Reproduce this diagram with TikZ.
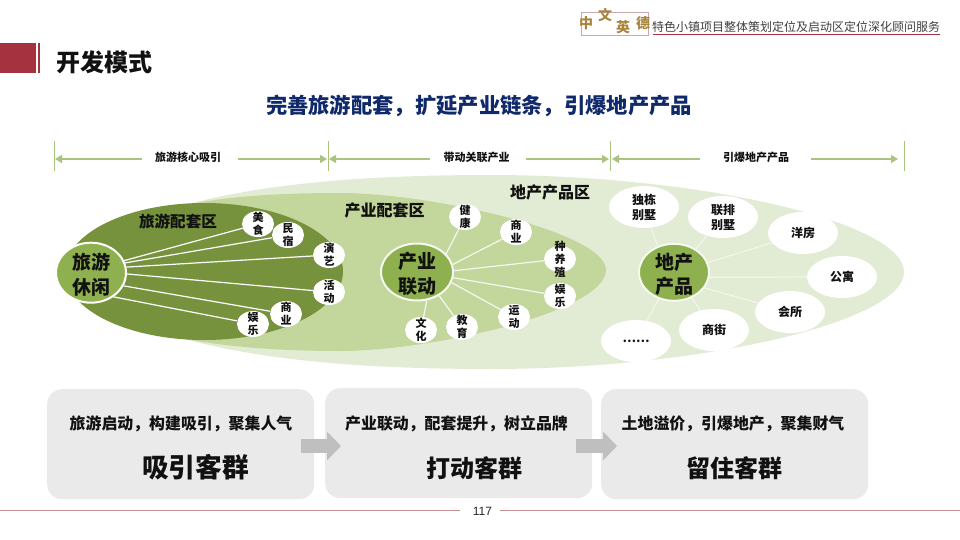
\documentclass[tikz,border=0pt]{standalone}
\usepackage{fontspec}
\setmainfont{Noto Sans CJK SC}
\newfontfamily\latinfont{Liberation Sans}
\usetikzlibrary{shapes.geometric,arrows.meta}
\definecolor{cOuter}{HTML}{E2EBD3}
\definecolor{cMid}{HTML}{C3D69B}
\definecolor{cDark}{HTML}{76923C}
\definecolor{cHub}{HTML}{8FB04F}
\definecolor{cNavy}{HTML}{10296B}
\definecolor{cRed}{HTML}{A5323F}
\definecolor{cRule}{HTML}{A9C47F}
\definecolor{cFoot}{HTML}{C98F95}
\definecolor{cBox}{HTML}{EAEAEA}
\definecolor{cInk}{HTML}{111111}
\definecolor{cGold}{HTML}{A8843C}
\newcommand\fs[1]{\fontsize{#1}{#1}\selectfont}
\tikzset{
  txt/.style={inner sep=0,text=cInk,font=\bfseries,align=center},
  lab/.style={txt,font=\fontsize{11}{13}\selectfont\bfseries},
  labb/.style={txt,font=\fontsize{12}{15}\selectfont\bfseries},
  hubtxt/.style={txt,yshift=-2pt,font=\fontsize{19}{24.7}\selectfont\bfseries},
  sat/.style={ellipse,fill=white,minimum width=32pt,minimum height=26pt,inner sep=0},
  satb/.style={ellipse,fill=white,minimum width=70pt,minimum height=42pt,inner sep=0},
  hub/.style={ellipse,fill=cHub,line width=2pt,inner sep=0},
  spoke/.style={line width=1.2pt},
  rulearrow/.style={draw=cRule,line width=1.2pt,-{Triangle[length=7pt,width=8pt]}},
  ruletick/.style={draw=cRule,line width=0.9pt},
  panel/.style={fill=cBox,rounded corners=15pt,inner sep=0,anchor=north west},
  flow/.style={draw=black!25,line width=14pt,-{Triangle[length=14pt,width=28pt]}},
  logoch/.style={inner sep=0,text=cGold,font=\fs{14}\bfseries},
}
\begin{document}
\begin{tikzpicture}[x=1pt,y=-1pt]
\useasboundingbox (0,0) rectangle (960,540);
\fill[white] (0,0) rectangle (960,540);

% header
\fill[cRed] (0,43) rectangle (36,73.5);
\fill[cRed] (37.5,43) rectangle (40,73.5);
\node[txt,font=\fs{24}\bfseries] (title) at (104,62) {开发模式};
\draw[draw=black!25!cRed!40,line width=0.6pt] (581,12) rectangle (648.5,35);
\node[logoch] (lg1) at (586,23) {中};
\node[logoch] (lg2) at (605,15) {文};
\node[logoch] (lg3) at (623,27) {英};
\node[logoch] (lg4) at (643,23) {德};
\node[inner sep=0,text=black!75,font=\fs{12}] (sub) at (796,27) {特色小镇项目整体策划定位及启动区定位深化顾问服务};
\draw[cRed,line width=0.9pt] (652.5,34.5) -- (940,34.5);
\node[txt,text=cNavy,font=\fs{21.3}\bfseries] (head) at (479,106) {完善旅游配套，扩延产业链条，引爆地产产品};

% ruler
\coordinate (t0a) at (54.5,141); \coordinate (t0b) at (54.5,171);
\coordinate (t1a) at (328,141); \coordinate (t1b) at (328,171);
\coordinate (t2a) at (610,141); \coordinate (t2b) at (610,171);
\coordinate (t3a) at (904,141); \coordinate (t3b) at (904,171);
\foreach \k in {0,1,2,3} \draw[ruletick] (t\k a) -- (t\k b);
\node[txt,font=\fs{11}\bfseries] (r1) at (188,157) {旅游核心吸引};
\node[txt,font=\fs{11}\bfseries] (r2) at (476.5,157) {带动关联产业};
\node[txt,font=\fs{11}\bfseries] (r3) at (756,157) {引爆地产产品};
\coordinate (r1l) at (142,159); \coordinate (r1le) at (55,159);
\coordinate (r1r) at (238,159); \coordinate (r1re) at (327,159);
\coordinate (r2l) at (430,159); \coordinate (r2le) at (329,159);
\coordinate (r2r) at (526,159); \coordinate (r2re) at (609,159);
\coordinate (r3l) at (700,159); \coordinate (r3le) at (612,159);
\coordinate (r3r) at (811,159); \coordinate (r3re) at (898,159);
\foreach \k in {r1l,r1r,r2l,r2r,r3l,r3r} \draw[rulearrow] (\k) -- (\k e);

% zones
\fill[cOuter] (185,205) .. controls (265,183) and (370,175) .. (490,175)
  .. controls (700,175) and (904,222) .. (904,272)
  .. controls (904,322) and (700,369) .. (490,369)
  .. controls (370,369) and (265,361) .. (185,339) -- cycle;
\fill[cMid] (185,205) .. controls (230,196) and (280,193) .. (340,193)
  .. controls (430,193) and (606,232) .. (606,270)
  .. controls (606,312) and (430,351) .. (340,351)
  .. controls (280,351) and (230,347) .. (185,339) -- cycle;
\fill[cDark] (204,271.5) ellipse [x radius=139pt,y radius=68.5pt];
\node[txt,font=\fs{15.6}\bfseries] (z1) at (178,221) {旅游配套区};
\node[txt,font=\fs{16}\bfseries] (z2) at (384.5,210) {产业配套区};
\node[txt,font=\fs{16}\bfseries] (z3) at (550,192) {地产产品区};

% hubs
\node[hub,draw=white,minimum width=70pt,minimum height=60pt] (h1) at (91,272.7) {};
\node[hubtxt] (h1t) at (h1) {旅游\\休闲};
\node[hub,draw=white!70!cOuter,minimum width=72pt,minimum height=57pt] (h2) at (417,272) {};
\node[hubtxt] (h2t) at (h2) {产业\\联动};
\node[hub,draw=white!70!cOuter,minimum width=70pt,minimum height=57pt] (h3) at (674,272.3) {};
\node[hubtxt] (h3t) at (h3) {地产\\产品};

% satellites, dark zone
\foreach \n/\x/\y/\t/\a in {
  a1/258/224/{美\\食}/20, a2/288/235/{民\\宿}/16, a3/329/255/{演\\艺}/9,
  a4/329/292/{活\\动}/-2, a5/286/314/{商\\业}/-22, a6/253/324/{娱\\乐}/-47} {
  \node[sat] (\n) at (\x,\y) {};
  \node[lab] (\n t) at (\n) {\t};
  \draw[spoke,white] (h1.\a) -- (\n);
}
% satellites, middle zone
\foreach \n/\x/\y/\t/\a in {
  b1/465/217/{健\\康}/32, b2/516/232/{商\\业}/12, b3/560/259/{种\\养\\殖}/2,
  b4/560/296/{娱\\乐}/-9, b5/514/317/{运\\动}/-17, b6/462/327/{教\\育}/-47, b7/421/330/{文\\化}/-71} {
  \node[sat] (\n) at (\x,\y) {};
  \node[lab] (\n t) at (\n) {\t};
  \draw[spoke,white!70!cOuter] (h2.\a) -- (\n);
}
% satellites, outer zone
\foreach \n/\x/\y/\t/\a in {
  c1/644/207/{独栋\\别墅}/122, c2/723/217/{联排\\别墅}/47, c3/803/233/{洋房}/16,
  c4/842/277/{公寓}/-8, c5/790/312/{会所}/-27, c6/714/330/{商街}/-55, c7/636/341/{……}/-120} {
  \node[satb] (\n) at (\x,\y) {};
  \node[labb] (\n t) at (\n) {\t};
  \draw[spoke,white!55!cOuter] (h3.\a) -- (\n);
}

% panels
\node[panel,minimum width=267pt,minimum height=110pt] (p1) at (47,389) {};
\node[panel,minimum width=267pt,minimum height=110pt] (p2) at (325,388) {};
\node[panel,minimum width=267pt,minimum height=110pt] (p3) at (601,389) {};
\node[txt,font=\fs{15.9}\bfseries] (p1a) at (181,424) {旅游启动，构建吸引，聚集人气};
\node[txt,font=\fs{26.7}\bfseries] (p1b) at (195.5,467) {吸引客群};
\node[txt,font=\fs{15.9}\bfseries] (p2a) at (456.5,424) {产业联动，配套提升，树立品牌};
\node[txt,font=\fs{24}\bfseries] (p2b) at (474,468) {打动客群};
\node[txt,font=\fs{15.9}\bfseries] (p3a) at (733,424) {土地溢价，引爆地产，聚集财气};
\node[txt,font=\fs{24}\bfseries] (p3b) at (734.5,468) {留住客群};
\coordinate (f1a) at (301,446); \coordinate (f1b) at (341,446);
\coordinate (f2a) at (576,446); \coordinate (f2b) at (617,446);
\draw[flow] (f1a) -- (f1b);
\draw[flow] (f2a) -- (f2b);

% footer
\draw[cFoot,line width=1.8pt] (0,510.5) -- (460,510.5);
\draw[cFoot,line width=1.8pt] (500,510.5) -- (960,510.5);
\node[inner sep=0,text=black!85,font=\latinfont\fs{12}] (pg) at (482.5,511) {117};
\end{tikzpicture}
\end{document}
